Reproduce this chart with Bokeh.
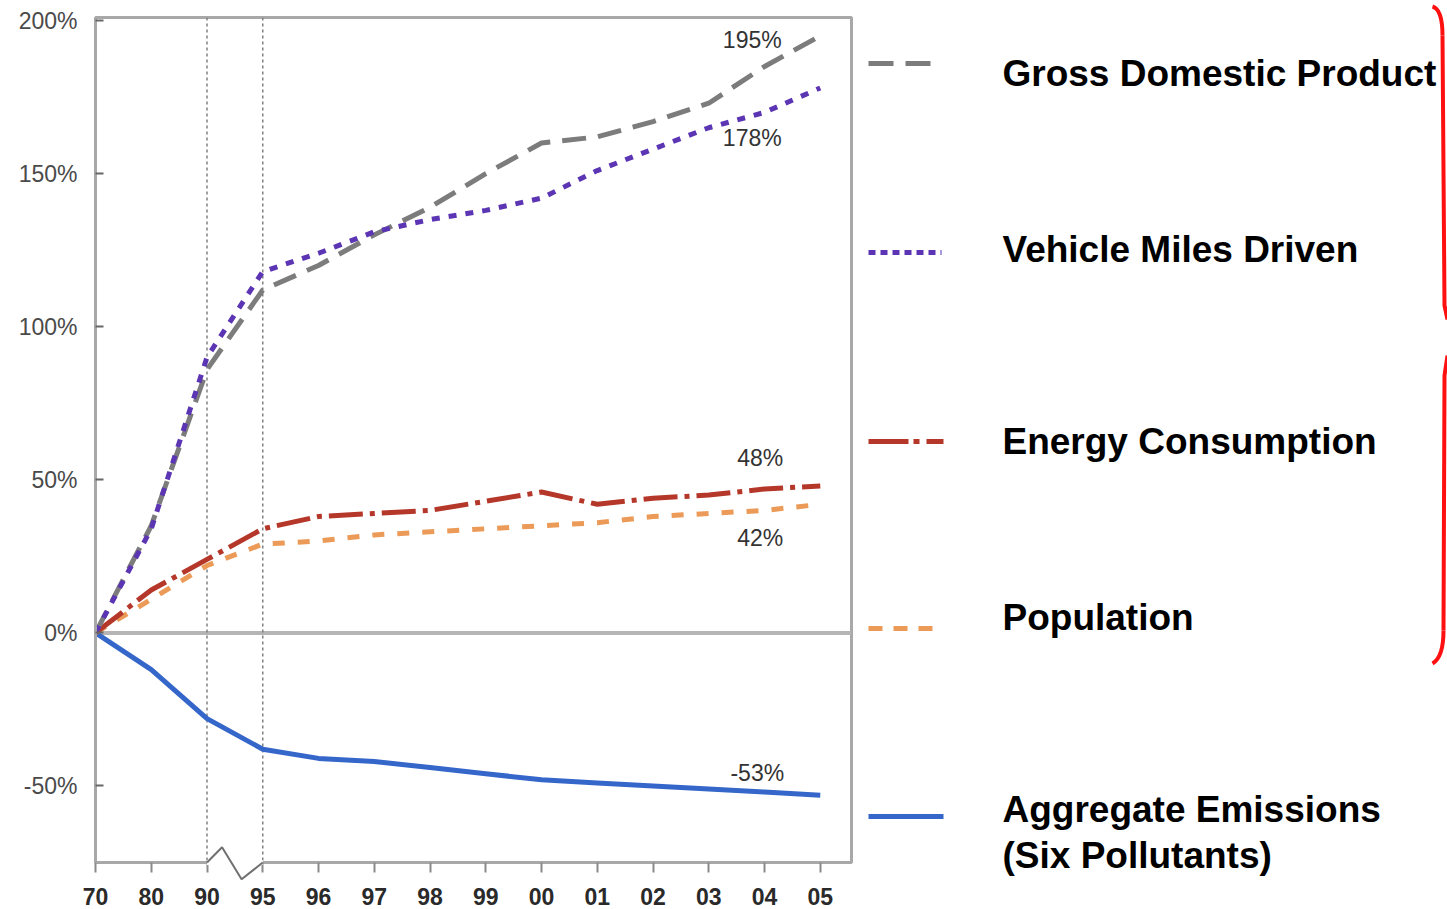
from bokeh.plotting import figure
from bokeh.models import Range1d, FixedTicker, Span, Label
from bokeh.layouts import row
from bokeh.embed import file_html
from bokeh.resources import INLINE
from bokeh.core.properties import value

# ---------------- data ----------------
years = ["70", "80", "90", "95", "96", "97", "98", "99", "00", "01", "02", "03", "04", "05"]
gdp = [0, 35, 86, 112, 120, 130, 139, 150, 160, 162, 167, 173, 185, 195]
vmt = [0, 34, 90, 118, 124, 131, 135, 138, 142, 151, 158, 165, 170, 178]
energy = [0, 14, 24, 34, 38, 39, 40, 43, 46, 42, 44, 45, 47, 48]
population = [0, 11, 22, 29, 30, 32, 33, 34, 35, 36, 38, 39, 40, 42]
emissions = [0, -12, -28, -38, -41, -42, -44, -46, -48, -49, -50, -51, -52, -53]

series_names = ["Gross Domestic Product", "Vehicle Miles Driven", "Energy Consumption",
                "Population", "Aggregate Emissions", "(Six Pollutants)"]
end_labels = ["195%", "178%", "48%", "42%", "-53%"]
y_ticks = [-50, 0, 50, 100, 150, 200]
y_tick_labels = ["-50%", "0%", "50%", "100%", "150%", "200%"]

# ---------------- styles ----------------
FONT = "Liberation Sans"
colors = ["#7c7c7c", "#5b35b3", "#b5372a", "#eb9a58", "#3566c9"]
dashes = ["24 12", "8 9", "34 7 5 7", "12 13", "solid"]
label_offsets = [(-68, -4), (-68, -50), (-60, 28), (-60, -34), (-63, 22)]

xs = list(range(len(years)))
series = [gdp, vmt, energy, population, emissions]

FRAME_W, FRAME_H = 756, 845
TOP, BOTTOM = 17, 47

p = figure(frame_width=FRAME_W, frame_height=FRAME_H,
           x_range=Range1d(0, 13.56), y_range=Range1d(-75, 201),
           min_border_left=95, min_border_right=10, min_border_top=TOP, min_border_bottom=BOTTOM,
           output_backend="svg", toolbar_location=None)
p.background_fill_color = "white"
p.border_fill_color = "white"
p.xgrid.visible = False
p.ygrid.visible = False
p.outline_line_color = "#a8a8a8"
p.outline_line_width = 3

p.xaxis.ticker = FixedTicker(ticks=xs)
p.xaxis.major_label_overrides = {i: y for i, y in zip(xs, years)}
p.xaxis.axis_line_color = "#a8a8a8"
p.xaxis.axis_line_width = 3
p.xaxis.major_tick_line_color = "#8a8a8a"
p.xaxis.major_tick_line_width = 2
p.xaxis.major_tick_out = 10
p.xaxis.major_tick_in = 0
p.xaxis.minor_tick_line_color = None
p.xaxis.major_label_standoff = 15
p.xaxis.major_label_text_font = FONT
p.xaxis.major_label_text_font_size = "23px"
p.xaxis.major_label_text_font_style = "bold"
p.xaxis.major_label_text_color = "#2a2a2a"

p.yaxis.ticker = FixedTicker(ticks=y_ticks)
p.yaxis.major_label_overrides = {t: l for t, l in zip(y_ticks, y_tick_labels)}
p.yaxis.axis_line_color = "#a8a8a8"
p.yaxis.axis_line_width = 3
p.yaxis.major_tick_line_color = "#666666"
p.yaxis.major_tick_line_width = 2
p.yaxis.major_tick_in = 8
p.yaxis.major_tick_out = 0
p.yaxis.minor_tick_line_color = None
p.yaxis.major_label_standoff = 18
p.yaxis.major_label_text_font = FONT
p.yaxis.major_label_text_font_size = "23px"
p.yaxis.major_label_text_color = "#4a4a4a"

# reference lines
p.add_layout(Span(location=0, dimension="width", line_color="#b5b5b5", line_width=4, level="underlay"))
for yr in ["90", "95"]:
    p.add_layout(Span(location=xs[years.index(yr)], dimension="height", line_color="#808080",
                      line_width=1.5, line_dash="3 3", level="underlay"))

# axis break zig-zag between 90 and 95
i90, i95 = xs[years.index("90")], xs[years.index("95")]
p.line([i90, i95], [-75, -75], line_color="white", line_width=5, level="overlay")
p.line([i90, i90 + 0.27, i90 + 0.62, i95], [-75, -70, -80.5, -75],
       line_color="#707070", line_width=2, level="overlay")

# series lines (bottom to top order)
for idx in [4, 3, 2, 0, 1]:
    p.line(xs, series[idx], line_color=colors[idx], line_width=5, line_dash=dashes[idx])

# end labels
for s, lab, (dx, dy) in zip(series, end_labels, label_offsets):
    p.add_layout(Label(x=xs[-1], y=s[-1], text=lab, x_offset=dx, y_offset=dy,
                       text_align="center", text_baseline="middle",
                       text_font=FONT, text_font_size="23px", text_color="#333333"))

# ---------------- legend panel (coordinates = page pixels) ----------------
LW = 586
lg = figure(frame_width=LW, frame_height=FRAME_H, x_range=Range1d(0, LW),
            y_range=Range1d(TOP + FRAME_H, TOP),
            min_border_left=0, min_border_right=0, min_border_top=TOP, min_border_bottom=BOTTOM,
            output_backend="svg", toolbar_location=None,
            x_axis_location=None, y_axis_location=None)
lg.xgrid.visible = False
lg.ygrid.visible = False
lg.outline_line_color = None
lg.background_fill_color = "white"
lg.border_fill_color = "white"

sample_y = [63, 252, 441, 628, 816]
sample_x = [(7, 72), (7, 80), (7, 82), (7, 73), (7, 82)]
sample_dash = ["25 12", "7 5", "40 5 6 7", "14 11", "solid"]
for (x0, x1), yy, c, d in zip(sample_x, sample_y, colors, sample_dash):
    lg.line([x0, x1], [yy, yy], line_color=c, line_width=5, line_dash=d, level="overlay")

text_y = [73, 249, 441, 617, 809, 855]
lg.text(x=[141] * len(series_names), y=text_y, text=series_names,
        text_font=value(FONT), text_font_style="bold", text_font_size="37px",
        text_color="black", text_baseline="middle", text_align="left", level="overlay")

# red braces
RED = "#ff1010"
lg.bezier(x0=[571], y0=[6], x1=[581], y1=[35], cx0=[578], cy0=[8], cx1=[581], cy1=[20],
          line_color=RED, line_width=4, level="overlay")
lg.line([581, 583, 586], [35, 305, 319], line_color=RED, line_width=4, level="overlay")
lg.line([586, 583, 582], [355, 375, 630], line_color=RED, line_width=4, level="overlay")
lg.bezier(x0=[582], y0=[630], x1=[571], y1=[663], cx0=[582], cy0=[650], cx1=[578], cy1=[659],
          line_color=RED, line_width=4, level="overlay")

layout = row(p, lg)
open("out.html", "w").write(file_html(layout, INLINE))
